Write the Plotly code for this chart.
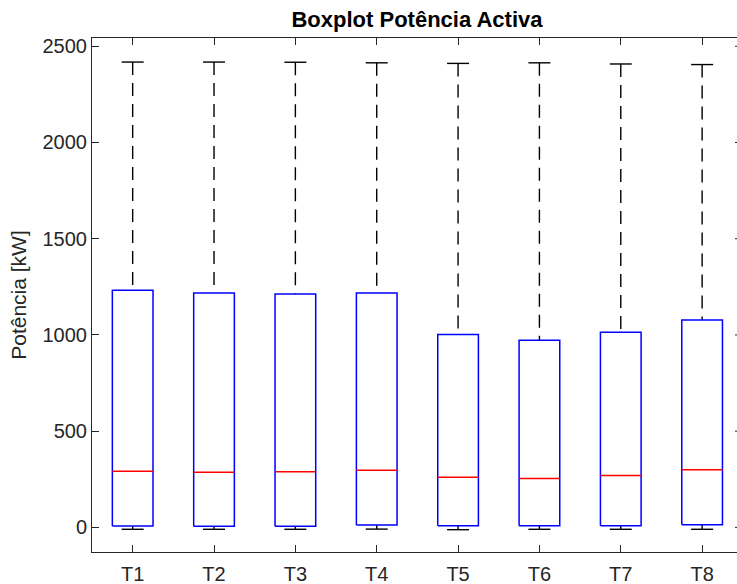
import plotly.graph_objects as go

# ---- data ----
categories = ["T1", "T2", "T3", "T4", "T5", "T6", "T7", "T8"]
upper_whisker = [2418, 2418, 2417, 2414, 2411, 2414, 2408, 2405]
q3 = [1232, 1218, 1213, 1218, 1002, 972, 1014, 1078]
median = [291, 287, 289, 297, 261, 254, 270, 299]
q1 = [7, 6, 6, 12, 8, 9, 8, 14]
lower_whisker = [-10, -10, -10, -9, -12, -10, -10, -10]
y_ticks = [0, 500, 1000, 1500, 2000, 2500]

BOX_HALF = 0.25
CAP_HALF = 0.135
AX = "#262626"
FONT = "Liberation Sans, Arial, Helvetica, sans-serif"

positions = list(range(1, len(categories) + 1))

box_x, box_y = [], []
med_x, med_y = [], []
wh_x, wh_y = [], []
cap_x, cap_y = [], []
for p, lo, a, m, b, hi in zip(positions, lower_whisker, q1, median, q3, upper_whisker):
    box_x += [p - BOX_HALF, p + BOX_HALF, p + BOX_HALF, p - BOX_HALF, p - BOX_HALF, None]
    box_y += [a, a, b, b, a, None]
    med_x += [p - BOX_HALF, p + BOX_HALF, None]
    med_y += [m, m, None]
    wh_x += [p, p, None, p, p, None]
    wh_y += [hi, b, None, a, lo, None]
    cap_x += [p - CAP_HALF, p + CAP_HALF, None, p - CAP_HALF, p + CAP_HALF, None]
    cap_y += [hi, hi, None, lo, lo, None]

fig = go.Figure()
fig.add_trace(go.Scatter(x=wh_x, y=wh_y, mode="lines",
                         line=dict(color="black", width=1.4, dash="13px,8px"),
                         hoverinfo="skip", showlegend=False))
fig.add_trace(go.Scatter(x=cap_x, y=cap_y, mode="lines",
                         line=dict(color="black", width=1.4),
                         hoverinfo="skip", showlegend=False))
fig.add_trace(go.Scatter(x=box_x, y=box_y, mode="lines",
                         line=dict(color="#0000ff", width=1.5),
                         hoverinfo="skip", showlegend=False))
fig.add_trace(go.Scatter(x=med_x, y=med_y, mode="lines",
                         line=dict(color="#ff0000", width=1.5),
                         hoverinfo="skip", showlegend=False))

L, R, T, B = 92, 0, 38, 32
W, H = 737, 584
plot_w = W - L - R
px_per_unit = 81.35

# right-side tick marks (the right axis itself lies just outside the picture)
shapes = []
for v in y_ticks:
    shapes.append(dict(type="line", xref="paper", yref="y",
                       x0=(735 - L) / plot_w, x1=1, y0=v, y1=v,
                       line=dict(color=AX, width=1)))

fig.update_layout(
    width=W, height=H,
    margin=dict(l=L, r=R, t=T, b=B),
    paper_bgcolor="white", plot_bgcolor="white",
    font=dict(family=FONT, size=20, color=AX),
    title=dict(text="<b>Boxplot Potência Activa</b>", x=417 / W, xanchor="center",
               y=1 - 19 / H, yanchor="middle",
               font=dict(family=FONT, size=22, color="black")),
    shapes=shapes,
    xaxis=dict(range=[0.5, 0.5 + plot_w / px_per_unit],
               tickmode="array", tickvals=positions, ticktext=categories,
               ticks="inside", ticklen=7, tickcolor=AX, tickwidth=1,
               showline=True, linecolor=AX, linewidth=1, mirror="ticks",
               ticklabelstandoff=4,
               showgrid=False, zeroline=False, fixedrange=True),
    yaxis=dict(range=[-128, 2543],
               tickmode="array", tickvals=y_ticks,
               ticktext=[str(v) for v in y_ticks],
               ticks="inside", ticklen=7, tickcolor=AX, tickwidth=1,
               showline=True, linecolor=AX, linewidth=1, mirror=False,
               showgrid=False, zeroline=False, fixedrange=True,
               title=dict(text="Potência [kW]", font=dict(size=21, color=AX), standoff=10)),
)

fig.write_html("out.html")
